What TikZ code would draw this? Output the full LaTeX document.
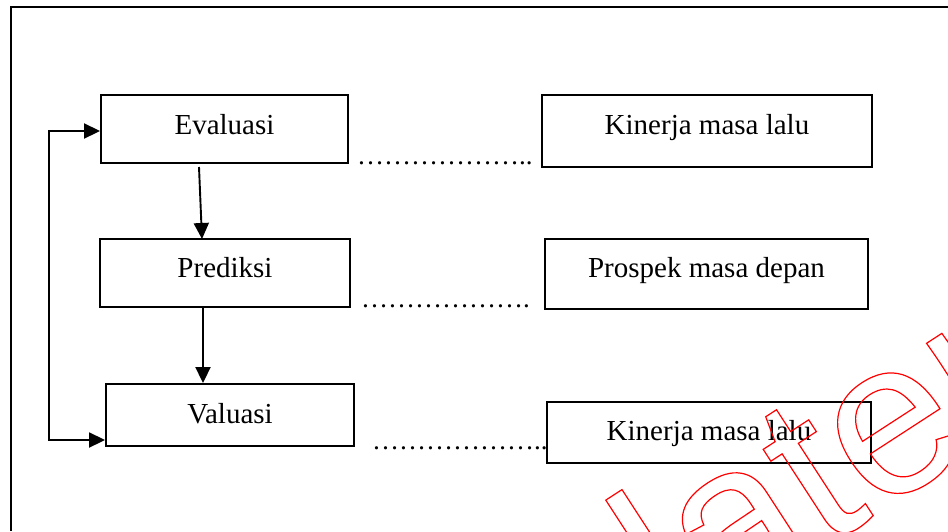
\documentclass[tikz,border=0pt]{standalone}
\usepackage{fontspec}
\setmainfont{Liberation Serif}
\newfontfamily\wmfont{Liberation Sans}
\usetikzlibrary{arrows.meta}
\begin{document}
\begin{tikzpicture}[x=1pt,y=-1pt,
  box/.style={draw, line width=1.9pt, inner sep=0pt, font=\fontsize{29}{34}\selectfont,
              text height=20pt, text depth=14pt},
  tip/.tip={Triangle[width=15pt,length=16pt]},
  conn/.style={line width=1.9pt, -tip},
  dotline/.style={anchor=base west, inner sep=0pt, font=\fontsize{27}{32}\selectfont},
  frame/.style={line width=1.9pt}]
\useasboundingbox (0,0) rectangle (948,531);
% outer frame
\coordinate (fbl) at (11,531);
\coordinate (ftl) at (11,7);
\coordinate (ftr) at (948,7);
\draw[frame] (fbl) -- (ftl) -- (ftr);
% boxes
\node[box, text depth=10pt, minimum width=247pt, minimum height=68pt] (ev) at (224.5,129) {Evaluasi};
\node[box, minimum width=330pt, minimum height=72pt] (k1) at (707,131) {Kinerja masa lalu};
\node[box, text depth=11pt, minimum width=250pt, minimum height=68pt] (pr) at (225,273) {Prediksi};
\node[box, minimum width=323pt, minimum height=70pt] (ps) at (706.5,274) {Prospek masa depan};
\node[box, text depth=4pt, minimum width=248pt, minimum height=62pt] (va) at (230,415) {Valuasi};
\node[box, text depth=5pt, minimum width=324pt, minimum height=61pt] (k2) at (709,432.5) {Kinerja masa lalu};
% dotted leaders (text)
\node[dotline] (d1) at (357,164) {{………}{………}..};
\node[dotline] (d2) at (361,307) {{………}{………}.};
\node[dotline] (d3) at (372,449) {{………}{………}..};
% connectors
\coordinate (a1s) at (199,167);
\coordinate (a1e) at (202,239);
\draw[conn] (a1s) -- (a1e);
\coordinate (a2s) at (203,307);
\draw[conn] (a2s) -- (va.north -| a2s);
\coordinate (fbtop) at (49,131);
\coordinate (fbbot) at (49,440);
\draw[line width=1.9pt, tip-tip]
  (ev.west |- fbtop) -- (fbtop) -- (fbbot) -- (va.west |- fbbot);
% watermark
\begin{scope}
\clip (0,0) rectangle (948,531);
\node[anchor=base west, inner sep=0pt, rotate=33, text=red,
      font=\wmfont\fontsize{220}{220}\selectfont] (wm) at (680,642)
  {\special{pdf:literal 1 Tr 1.2 w}later\special{pdf:literal 0 Tr}};
\end{scope}
\end{tikzpicture}
\end{document}
